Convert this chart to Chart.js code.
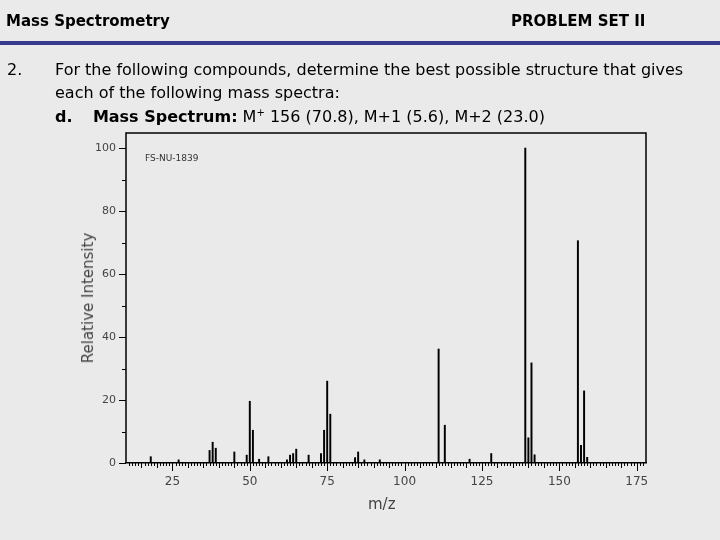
<!DOCTYPE html>
<html>
<head>
<meta charset="utf-8">
<script src="https://cdn.jsdelivr.net/npm/chart.js@4"></script>
<style>
  body { margin:0; width:720px; height:540px; background:#eaeaea; position:relative; overflow:hidden;
         font-family:"DejaVu Sans",sans-serif; color:#000; }
  canvas { position:absolute; left:0; top:0; }
  .t { position:absolute; white-space:nowrap; font-size:16px; }
  .b { font-weight:bold; }
  #rule { position:absolute; left:0; top:41px; width:720px; height:4px; background:#3a3a8c; }
</style>
</head>
<body>
<canvas id="ms" width="720" height="540"></canvas>
<div class="t b" style="left:6px;top:12px;font-size:15px">Mass Spectrometry</div>
<div class="t b" style="left:511px;top:12px;font-size:15px">PROBLEM SET II</div>
<div id="rule"></div>
<div class="t" style="left:7px;top:60px">2.</div>
<div class="t" style="left:55px;top:60px">For the following compounds, determine the best possible structure that gives</div>
<div class="t" style="left:55px;top:83px">each of the following mass spectra:</div>
<div class="t" style="left:55px;top:107px"><b>d.</b>&nbsp;&nbsp;&nbsp;&nbsp;<b>Mass Spectrum:</b> M<sup style="font-size:10px">+</sup> 156 (70.8), M+1 (5.6), M+2 (23.0)</div>
<div class="t" style="left:145px;top:153px;font-size:9px;color:#333">FS-NU-1839</div>
<div class="t" style="left:88px;top:298px;font-size:15px;color:#444;transform:translate(-50%,-50%) rotate(-90deg)">Relative Intensity</div>
<div class="t" style="left:368px;top:495px;font-size:15px;color:#444">m/z</div>
<script>
const mz =        [18, 27, 37, 38, 39, 45, 49, 50, 51, 53, 56, 62, 63, 64, 65, 69, 73, 74, 75, 76, 84, 85, 87, 92, 111, 113, 121, 128, 139, 140, 141, 142, 156, 157, 158, 159];
const intensity = [2.0,1.0,4.0,6.6,4.7,3.5,2.5,19.6,10.4,1.2,2.0,1.0,2.5,3.0,4.4,2.5,3.0,10.4,26.0,15.5,1.7,3.5,1.0,1.0,36.2,12.0,1.2,3.0,100,8.0,31.8,2.6,70.6,5.6,22.9,1.8];
const xTicks = [25, 50, 75, 100, 125, 150, 175];
const yTicks = [0, 20, 40, 60, 80, 100];

const frame = {
  id: 'frame',
  afterDraw(chart) {
    const {ctx, chartArea: a, scales: {x, y}} = chart;
    ctx.save();
    ctx.strokeStyle = '#000';
    ctx.lineWidth = 1.5;
    ctx.beginPath();
    ctx.moveTo(a.left, a.bottom); ctx.lineTo(a.left, a.top);
    ctx.lineTo(a.right, a.top); ctx.lineTo(a.right, a.bottom);
    ctx.stroke();
    ctx.lineWidth = 1;
    ctx.beginPath();
    for (let v = 11; v <= 177; v++) {
      const px = Math.round(x.getPixelForValue(v)) + 0.5;
      const len = v % 25 === 0 ? 8 : (v % 5 === 0 ? 5 : 3);
      ctx.moveTo(px, a.bottom); ctx.lineTo(px, a.bottom + len);
    }
    for (let v = 0; v <= 100; v += 10) {
      const py = Math.round(y.getPixelForValue(v)) + 0.5;
      ctx.moveTo(a.left, py); ctx.lineTo(a.left - (v % 20 === 0 ? 7 : 4), py);
    }
    ctx.stroke();
    ctx.restore();
  }
};

new Chart(document.getElementById('ms'), {
  type: 'bar',
  data: {
    datasets: [{
      data: mz.map((m, i) => ({x: m, y: intensity[i]})),
      backgroundColor: '#000',
      barThickness: 1.3
    }]
  },
  options: {
    responsive: false,
    animation: false,
    layout: {padding: {left: 0, top: 133, right: 74, bottom: 0}},
    plugins: {legend: {display: false}, tooltip: {enabled: false}},
    scales: {
      x: {
        type: 'linear', min: 10, max: 178, offset: false, bounds: 'ticks',
        afterBuildTicks: s => { s.ticks = xTicks.map(v => ({value: v})); },
        afterDataLimits: s => { s.min = 10; s.max = 178; },
        afterFit: s => { s.height = 77; },
        grid: {display: false, drawTicks: false, offset: false},
        border: {display: true, color: '#000', width: 1.5},
        ticks: {padding: 12, color: '#444', font: {family: 'DejaVu Sans', size: 12}, maxRotation: 0}
      },
      y: {
        min: 0, max: 104.8,
        afterBuildTicks: s => { s.ticks = yTicks.map(v => ({value: v})); },
        afterFit: s => { s.width = 126; },
        grid: {display: false, drawTicks: false},
        border: {display: false},
        ticks: {padding: 10, color: '#444', font: {family: 'DejaVu Sans', size: 11}}
      }
    }
  },
  plugins: [frame]
});
</script>
</body>
</html>
